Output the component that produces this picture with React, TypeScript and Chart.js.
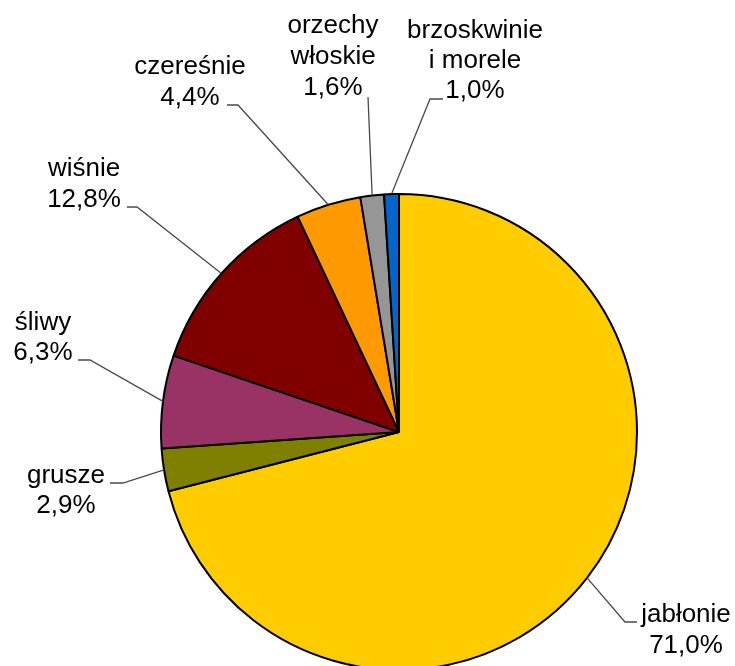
import React, { useEffect, useRef } from "react";
import { Chart, registerables } from "chart.js";

Chart.register(...registerables);

const categories: string[][] = [
  ["jabłonie"],
  ["grusze"],
  ["śliwy"],
  ["wiśnie"],
  ["czereśnie"],
  ["orzechy", "włoskie"],
  ["brzoskwinie", "i morele"],
];
const values: number[] = [71.0, 2.9, 6.3, 12.8, 4.4, 1.6, 1.0];
const colors: string[] = ["#FFCC00", "#808000", "#993366", "#800000", "#FF9900", "#969696", "#0066CC"];

// label layout: text centre x, first baseline y, line step, leader elbow and end
const labelLayout = [
  { cx: 686, y0: 622, step: 31, elbow: [625, 622], end: [637, 622] },
  { cx: 66, y0: 483, step: 30, elbow: [123, 483], end: [110, 483] },
  { cx: 43, y0: 330, step: 30, elbow: [90, 360], end: [78, 360] },
  { cx: 84, y0: 176, step: 31, elbow: [137, 207], end: [127, 207] },
  { cx: 190, y0: 74, step: 31, elbow: [238, 105], end: [227, 105] },
  { cx: 333, y0: 33, step: 31, elbow: [368, 97], end: [368, 97] },
  { cx: 475, y0: 38, step: 30, elbow: [430, 99], end: [443, 99] },
];

const fmt = (v: number) => v.toFixed(1).replace(".", ",") + "%";

const labelPlugin = {
  id: "pieLabels",
  afterDatasetsDraw(chart: any) {
    const ctx = chart.ctx;
    const meta = chart.getDatasetMeta(0);
    ctx.save();
    meta.data.forEach((arc: any, i: number) => {
      const p = arc.getProps(["x", "y", "startAngle", "endAngle", "outerRadius"], true);
      const mid = (p.startAngle + p.endAngle) / 2;
      const sx = p.x + Math.cos(mid) * p.outerRadius;
      const sy = p.y + Math.sin(mid) * p.outerRadius;
      const L = labelLayout[i];
      ctx.beginPath();
      ctx.strokeStyle = "#4a4a4a";
      ctx.lineWidth = 1.3;
      ctx.moveTo(sx, sy);
      ctx.lineTo(L.elbow[0], L.elbow[1]);
      ctx.lineTo(L.end[0], L.end[1]);
      ctx.stroke();
      const lines = [...categories[i], fmt(values[i])];
      ctx.fillStyle = "#000000";
      ctx.font = '26px "Liberation Sans", Arial, sans-serif';
      ctx.textAlign = "center";
      ctx.textBaseline = "alphabetic";
      lines.forEach((t, k) => {
        ctx.fillText(t, L.cx, L.y0 + k * L.step);
      });
    });
    ctx.restore();
  },
};

export default function App() {
  const ref = useRef<HTMLCanvasElement | null>(null);
  useEffect(() => {
    if (!ref.current) return;
    const chart = new Chart(ref.current, {
      type: "pie",
      data: {
        labels: categories.map((c) => c.join(" ")),
        datasets: [
          {
            data: values,
            backgroundColor: colors,
            borderColor: "#000000",
            borderWidth: 2,
            radius: 238,
            hoverOffset: 0,
            clip: false,
          } as any,
        ],
      },
      options: {
        responsive: false,
        animation: false,
        layout: { padding: { left: 63, right: 0, top: 198, bottom: 0 } },
        plugins: {
          legend: { display: false },
          tooltip: { enabled: false },
        },
      },
      plugins: [labelPlugin],
    });
    return () => chart.destroy();
  }, []);
  return (
    <div style={{ position: "fixed", left: 0, top: 0, width: 735, height: 666, background: "#fff" }}>
      <canvas ref={ref} width={735} height={666} />
    </div>
  );
}
